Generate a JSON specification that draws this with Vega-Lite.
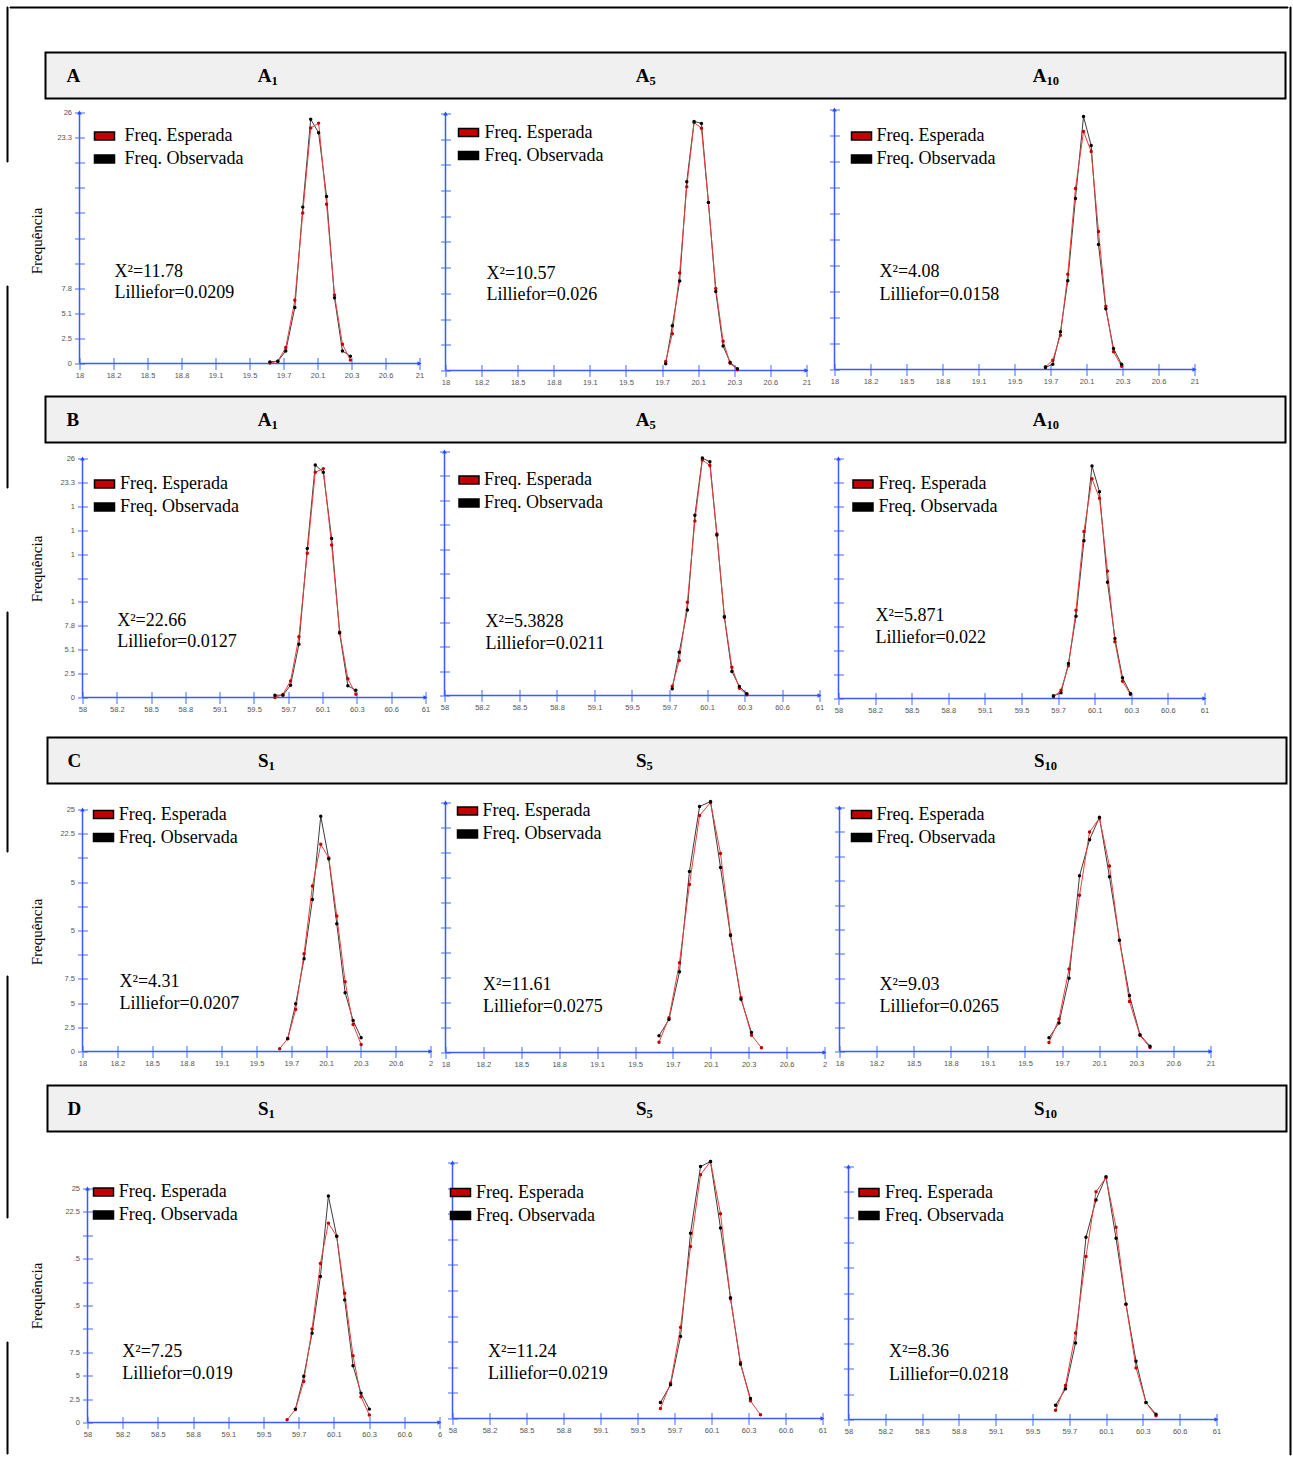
{
  "$schema": "https://vega.github.io/schema/vega-lite/v6.json",
  "padding": {"left": 5.5, "top": 5.5, "right": 2, "bottom": 2},
  "background": "white",
  "datasets": {
    "freq": [
      {"p": "A1", "x": 19.68, "e": 0.05, "o": 0.17},
      {"p": "A1", "x": 19.75, "e": 0.24, "o": 0.24},
      {"p": "A1", "x": 19.82, "e": 1.65, "o": 1.3},
      {"p": "A1", "x": 19.9, "e": 6.55, "o": 5.8},
      {"p": "A1", "x": 19.97, "e": 15.6, "o": 16.2},
      {"p": "A1", "x": 20.04, "e": 24.4, "o": 25.3},
      {"p": "A1", "x": 20.11, "e": 24.9, "o": 23.9},
      {"p": "A1", "x": 20.18, "e": 16.5, "o": 17.3},
      {"p": "A1", "x": 20.25, "e": 7.1, "o": 6.8},
      {"p": "A1", "x": 20.32, "e": 2.0, "o": 1.3},
      {"p": "A1", "x": 20.39, "e": 0.35, "o": 0.76},
      {"p": "A5", "x": 19.83, "e": 0.91, "o": 0.68},
      {"p": "A5", "x": 19.885, "e": 3.72, "o": 4.53},
      {"p": "A5", "x": 19.946, "e": 9.86, "o": 9.05},
      {"p": "A5", "x": 20.005, "e": 18.6, "o": 19.1},
      {"p": "A5", "x": 20.066, "e": 25.1, "o": 25.2},
      {"p": "A5", "x": 20.127, "e": 24.5, "o": 25.0},
      {"p": "A5", "x": 20.185, "e": 17.0, "o": 17.0},
      {"p": "A5", "x": 20.246, "e": 8.3, "o": 8.0},
      {"p": "A5", "x": 20.307, "e": 2.97, "o": 2.47},
      {"p": "A5", "x": 20.365, "e": 0.74, "o": 0.84},
      {"p": "A5", "x": 20.426, "e": 0.07, "o": 0.17},
      {"p": "A10", "x": 19.758, "e": 0.27, "o": 0.2},
      {"p": "A10", "x": 19.819, "e": 0.93, "o": 0.53},
      {"p": "A10", "x": 19.883, "e": 3.43, "o": 3.77},
      {"p": "A10", "x": 19.944, "e": 9.53, "o": 8.87},
      {"p": "A10", "x": 20.008, "e": 18.1, "o": 17.1},
      {"p": "A10", "x": 20.075, "e": 23.8, "o": 25.3},
      {"p": "A10", "x": 20.139, "e": 21.8, "o": 22.4},
      {"p": "A10", "x": 20.2, "e": 13.8, "o": 12.5},
      {"p": "A10", "x": 20.261, "e": 6.33, "o": 6.07},
      {"p": "A10", "x": 20.325, "e": 1.77, "o": 2.1},
      {"p": "A10", "x": 20.392, "e": 0.33, "o": 0.53},
      {"p": "B1", "x": 59.683, "e": 0.0, "o": 0.25},
      {"p": "B1", "x": 59.753, "e": 0.33, "o": 0.25},
      {"p": "B1", "x": 59.82, "e": 1.81, "o": 1.34},
      {"p": "B1", "x": 59.893, "e": 6.6, "o": 5.8},
      {"p": "B1", "x": 59.966, "e": 15.7, "o": 16.2},
      {"p": "B1", "x": 60.036, "e": 24.5, "o": 25.3},
      {"p": "B1", "x": 60.106, "e": 24.9, "o": 24.5},
      {"p": "B1", "x": 60.179, "e": 16.6, "o": 17.3},
      {"p": "B1", "x": 60.249, "e": 7.14, "o": 7.03},
      {"p": "B1", "x": 60.321, "e": 2.03, "o": 1.27},
      {"p": "B1", "x": 60.391, "e": 0.36, "o": 0.8},
      {"p": "B5", "x": 59.822, "e": 0.99, "o": 0.71},
      {"p": "B5", "x": 59.878, "e": 3.72, "o": 4.61},
      {"p": "B5", "x": 59.943, "e": 9.93, "o": 9.12},
      {"p": "B5", "x": 60.003, "e": 18.6, "o": 19.2},
      {"p": "B5", "x": 60.063, "e": 25.1, "o": 25.3},
      {"p": "B5", "x": 60.123, "e": 24.5, "o": 24.9},
      {"p": "B5", "x": 60.179, "e": 17.2, "o": 17.1},
      {"p": "B5", "x": 60.239, "e": 8.44, "o": 8.33},
      {"p": "B5", "x": 60.299, "e": 3.01, "o": 2.55},
      {"p": "B5", "x": 60.359, "e": 0.78, "o": 0.96},
      {"p": "B5", "x": 60.419, "e": 0.07, "o": 0.18},
      {"p": "B10", "x": 59.762, "e": 0.18, "o": 0.29},
      {"p": "B10", "x": 59.824, "e": 0.9, "o": 0.61},
      {"p": "B10", "x": 59.885, "e": 3.54, "o": 3.79},
      {"p": "B10", "x": 59.947, "e": 9.57, "o": 8.92},
      {"p": "B10", "x": 60.012, "e": 18.1, "o": 17.1},
      {"p": "B10", "x": 60.078, "e": 23.8, "o": 25.2},
      {"p": "B10", "x": 60.139, "e": 21.7, "o": 22.4},
      {"p": "B10", "x": 60.205, "e": 13.8, "o": 12.6},
      {"p": "B10", "x": 60.266, "e": 6.14, "o": 6.5},
      {"p": "B10", "x": 60.328, "e": 1.88, "o": 2.24},
      {"p": "B10", "x": 60.393, "e": 0.43, "o": 0.54},
      {"p": "C1", "x": 19.7, "e": 0.28, "o": null},
      {"p": "C1", "x": 19.769, "e": 1.34, "o": 1.31},
      {"p": "C1", "x": 19.838, "e": 4.34, "o": 4.93},
      {"p": "C1", "x": 19.91, "e": 10.1, "o": 9.59},
      {"p": "C1", "x": 19.982, "e": 17.1, "o": 15.7},
      {"p": "C1", "x": 20.054, "e": 21.4, "o": 24.3},
      {"p": "C1", "x": 20.123, "e": 20.0, "o": 19.9},
      {"p": "C1", "x": 20.192, "e": 14.0, "o": 13.2},
      {"p": "C1", "x": 20.264, "e": 7.2, "o": 6.07},
      {"p": "C1", "x": 20.333, "e": 2.79, "o": 3.2},
      {"p": "C1", "x": 20.402, "e": 0.72, "o": 1.41},
      {"p": "C5", "x": 19.69, "e": 1.03, "o": 1.67},
      {"p": "C5", "x": 19.769, "e": 3.47, "o": 3.3},
      {"p": "C5", "x": 19.852, "e": 8.97, "o": 8.07},
      {"p": "C5", "x": 19.931, "e": 16.8, "o": 18.1},
      {"p": "C5", "x": 20.011, "e": 23.7, "o": 24.6},
      {"p": "C5", "x": 20.098, "e": 25.0, "o": 25.1},
      {"p": "C5", "x": 20.177, "e": 19.9, "o": 18.5},
      {"p": "C5", "x": 20.256, "e": 11.8, "o": 11.7},
      {"p": "C5", "x": 20.339, "e": 5.5, "o": 5.33},
      {"p": "C5", "x": 20.422, "e": 1.73, "o": 2.0},
      {"p": "C5", "x": 20.501, "e": 0.47, "o": null},
      {"p": "C10", "x": 19.694, "e": 0.92, "o": 1.4},
      {"p": "C10", "x": 19.775, "e": 3.34, "o": 2.93},
      {"p": "C10", "x": 19.856, "e": 8.46, "o": 7.5},
      {"p": "C10", "x": 19.941, "e": 16.0, "o": 18.0},
      {"p": "C10", "x": 20.022, "e": 22.5, "o": 21.7},
      {"p": "C10", "x": 20.102, "e": 23.9, "o": 24.0},
      {"p": "C10", "x": 20.183, "e": 19.0, "o": 17.9},
      {"p": "C10", "x": 20.264, "e": 11.4, "o": 11.4},
      {"p": "C10", "x": 20.345, "e": 5.12, "o": 5.73},
      {"p": "C10", "x": 20.43, "e": 1.64, "o": 1.71},
      {"p": "C10", "x": 20.511, "e": 0.41, "o": 0.55},
      {"p": "D1", "x": 59.701, "e": 0.29, "o": null},
      {"p": "D1", "x": 59.772, "e": 1.39, "o": 1.43},
      {"p": "D1", "x": 59.843, "e": 4.39, "o": 4.93},
      {"p": "D1", "x": 59.914, "e": 10.0, "o": 9.54},
      {"p": "D1", "x": 59.985, "e": 17.0, "o": 15.6},
      {"p": "D1", "x": 60.053, "e": 21.3, "o": 24.2},
      {"p": "D1", "x": 60.124, "e": 19.9, "o": 19.9},
      {"p": "D1", "x": 60.192, "e": 13.8, "o": 13.1},
      {"p": "D1", "x": 60.263, "e": 7.14, "o": 6.07},
      {"p": "D1", "x": 60.331, "e": 2.75, "o": 3.14},
      {"p": "D1", "x": 60.402, "e": 0.79, "o": 1.43},
      {"p": "D5", "x": 59.686, "e": 0.98, "o": 1.56},
      {"p": "D5", "x": 59.768, "e": 3.46, "o": 3.29},
      {"p": "D5", "x": 59.849, "e": 8.9, "o": 8.02},
      {"p": "D5", "x": 59.93, "e": 16.8, "o": 18.1},
      {"p": "D5", "x": 60.011, "e": 23.8, "o": 24.6},
      {"p": "D5", "x": 60.092, "e": 25.1, "o": 25.1},
      {"p": "D5", "x": 60.173, "e": 20.0, "o": 18.6},
      {"p": "D5", "x": 60.254, "e": 11.7, "o": 11.8},
      {"p": "D5", "x": 60.335, "e": 5.48, "o": 5.31},
      {"p": "D5", "x": 60.416, "e": 1.73, "o": 1.96},
      {"p": "D5", "x": 60.497, "e": 0.36, "o": null},
      {"p": "D10", "x": 59.688, "e": 0.92, "o": 1.41},
      {"p": "D10", "x": 59.769, "e": 3.36, "o": 3.03},
      {"p": "D10", "x": 59.851, "e": 8.55, "o": 7.57},
      {"p": "D10", "x": 59.936, "e": 16.1, "o": 18.0},
      {"p": "D10", "x": 60.018, "e": 22.5, "o": 21.7},
      {"p": "D10", "x": 60.099, "e": 23.9, "o": 24.0},
      {"p": "D10", "x": 60.181, "e": 19.0, "o": 17.9},
      {"p": "D10", "x": 60.262, "e": 11.4, "o": 11.4},
      {"p": "D10", "x": 60.344, "e": 5.1, "o": 5.76},
      {"p": "D10", "x": 60.425, "e": 1.68, "o": 1.68},
      {"p": "D10", "x": 60.507, "e": 0.36, "o": 0.53}
    ]
  },
  "config": {
    "view": {"stroke": null},
    "concat": {"spacing": 0},
    "axis": {"grid": false, "domain": false, "tickCount": 20, "tickColor": "#7f9cff", "tickWidth": 1.5, "labelFont": "Liberation Sans", "labelFontSize": 7.5, "labelColor": "#555", "labelFlush": false, "labelOverlap": false, "titleFont": "Liberation Serif", "titleFontSize": 15, "titleFontWeight": "normal", "titleColor": "#000"},
    "axisX": {"tickSize": 12, "offset": -6, "labelPadding": 2},
    "axisY": {"tickSize": 10, "offset": -5, "labelPadding": 3},
    "legend": {"orient": "none", "padding": 0, "symbolType": "M-1,-0.4H1V0.4H-1Z", "symbolSize": 400, "symbolStrokeWidth": 1.5, "symbolStrokeColor": "#000", "labelFont": "Liberation Serif", "labelFontSize": 18, "labelColor": "#000", "rowPadding": 3, "labelLimit": 0},
    "text": {"font": "Liberation Serif", "fontSize": 18, "color": "#000"}
  },
  "spacing": 0,
  "hconcat": [
    {
      "spacing": 124,
      "bounds": "flush",
      "vconcat": [
        {"width": 1, "height": 155, "view": {"fill": "#000", "stroke": "#000", "strokeWidth": 1}, "data": {"values": []}, "mark": "point"},
        {"width": 1, "height": 202, "view": {"fill": "#000", "stroke": "#000", "strokeWidth": 1}, "data": {"values": []}, "mark": "point"},
        {"width": 1, "height": 240, "view": {"fill": "#000", "stroke": "#000", "strokeWidth": 1}, "data": {"values": []}, "mark": "point"},
        {"width": 1, "height": 242, "view": {"fill": "#000", "stroke": "#000", "strokeWidth": 1}, "data": {"values": []}, "mark": "point"},
        {"width": 1, "height": 112, "view": {"fill": "#000", "stroke": "#000", "strokeWidth": 1}, "data": {"values": []}, "mark": "point"}
      ]
    },
    {
      "spacing": 0,
      "vconcat": [
        {"width": 1278, "height": 1, "view": {"fill": "#000", "stroke": "#000", "strokeWidth": 1}, "data": {"values": []}, "mark": "point"},
        {"width": 1, "height": 42.5, "data": {"values": []}, "mark": "point"},
        {
          "spacing": 0, "bounds": "flush",
          "hconcat": [
            {"width": 35.5, "height": 46, "data": {"values": []}, "mark": "point"},
            {
              "width": 1240, "height": 46,
              "view": {"fill": "#f0f0f0", "stroke": "#000", "strokeWidth": 2},
              "data": {"values": [{}]},
              "layer": [
                {"mark": {"type": "text", "align": "left", "fontWeight": "bold", "fontSize": 19}, "encoding": {"x": {"datum": 21, "type": "quantitative", "scale": {"domain": [0, 1240], "nice": false, "zero": false}, "axis": null}, "text": {"value": "A"}}},
                {"mark": {"type": "text", "align": "right", "fontWeight": "bold", "fontSize": 19}, "encoding": {"x": {"datum": 226, "type": "quantitative"}, "text": {"value": "A"}}},
                {"mark": {"type": "text", "align": "left", "fontWeight": "bold", "fontSize": 12.5, "dy": 5.5}, "encoding": {"x": {"datum": 226, "type": "quantitative"}, "text": {"value": "1"}}},
                {"mark": {"type": "text", "align": "right", "fontWeight": "bold", "fontSize": 19}, "encoding": {"x": {"datum": 604, "type": "quantitative"}, "text": {"value": "A"}}},
                {"mark": {"type": "text", "align": "left", "fontWeight": "bold", "fontSize": 12.5, "dy": 5.5}, "encoding": {"x": {"datum": 604, "type": "quantitative"}, "text": {"value": "5"}}},
                {"mark": {"type": "text", "align": "right", "fontWeight": "bold", "fontSize": 19}, "encoding": {"x": {"datum": 1001, "type": "quantitative"}, "text": {"value": "A"}}},
                {"mark": {"type": "text", "align": "left", "fontWeight": "bold", "fontSize": 12.5, "dy": 5.5}, "encoding": {"x": {"datum": 1001, "type": "quantitative"}, "text": {"value": "10"}}}
              ]
            }
          ]
        },
        {
          "spacing": 0, "bounds": "flush",
          "resolve": {"scale": {"color": "independent"}, "legend": {"color": "independent"}},
          "hconcat": [
            {"width": 69.5, "height": 296, "data": {"values": []}, "mark": "point"},
            {
              "width": 366, "height": 264,
              "layer": [
                {"data": {"values": [{}]}, "mark": {"type": "rule", "color": "#3b5bff", "strokeWidth": 1.5}, "encoding": {
                  "x": {"datum": 18, "type": "quantitative", "scale": {"domain": [18, 21.2294], "nice": false, "zero": false}, "axis": {"values": [18, 18.3, 18.6, 18.9, 19.2, 19.5, 19.8, 20.1, 20.4, 20.7, 21], "tickCount": 20, "labelOverlap": false, "labelExpr": "['18','18.2','18.5','18.8','19.1','19.5','19.7','20.1','20.3','20.6','21'][round((datum.value-18)/0.3)]", "title": null}},
                  "x2": {"datum": 21},
                  "y": {"datum": 0, "type": "quantitative", "scale": {"domain": [0, 27.347], "nice": false}, "axis": {"values": [0, 2.6, 5.2, 7.8, 10.4, 13, 15.6, 18.2, 20.8, 23.4, 26], "tickCount": 20, "labelOverlap": false, "labelExpr": "['0','2.5','5.1','7.8','','','','','','23.3','26'][round(datum.value/2.6)]", "title": "Frequência", "minExtent": 30, "maxExtent": 30, "titlePadding": 10, "titleY": 141}}}},
                {"data": {"values": [{}]}, "mark": {"type": "rule", "color": "#3b5bff", "strokeWidth": 1.5}, "encoding": {"x": {"datum": 18, "type": "quantitative"}, "y": {"datum": 0, "type": "quantitative"}, "y2": {"datum": 26}}},
                {"data": {"values": [{}]}, "mark": {"type": "point", "shape": "triangle-right", "filled": true, "size": 22, "color": "#2b4bff", "opacity": 1}, "encoding": {"x": {"datum": 21, "type": "quantitative"}, "y": {"datum": 0, "type": "quantitative"}}},
                {"data": {"values": [{}]}, "mark": {"type": "point", "shape": "triangle-up", "filled": true, "size": 22, "color": "#2b4bff", "opacity": 1}, "encoding": {"x": {"datum": 18, "type": "quantitative"}, "y": {"datum": 26, "type": "quantitative"}}},
                {"data": {"name": "freq"}, "transform": [{"filter": "datum.p === 'A1'"}, {"fold": ["e", "o"], "as": ["s", "f"]}, {"filter": "isValid(datum.f)"}], "layer": [
                  {"transform": [{"filter": "datum.s === 'o'"}], "mark": {"type": "line", "color": "#3c3c3c", "strokeWidth": 1}, "encoding": {"x": {"field": "x", "type": "quantitative"}, "y": {"field": "f", "type": "quantitative"}}},
                  {"transform": [{"filter": "datum.s === 'e'"}], "mark": {"type": "line", "color": "#f03c3c", "strokeWidth": 1}, "encoding": {"x": {"field": "x", "type": "quantitative"}, "y": {"field": "f", "type": "quantitative"}}},
                  {"mark": {"type": "point", "filled": true, "size": 12, "opacity": 1}, "encoding": {"x": {"field": "x", "type": "quantitative"}, "y": {"field": "f", "type": "quantitative"}, "color": {"field": "s", "type": "nominal", "scale": {"domain": ["e", "o"], "range": ["#c40000", "#000000"]}, "legend": {"title": null, "legendX": 14, "legendY": 25.5, "labelOffset": 9, "labelExpr": "datum.value === 'e' ? 'Freq. Esperada' : 'Freq. Observada'", "encode": {"symbols": {"update": {"stroke": {"value": "#000"}, "strokeWidth": {"value": 1.5}}}}}}}}
                ]},
                {"data": {"values": [{}]}, "mark": {"type": "text", "align": "left", "baseline": "alphabetic"}, "encoding": {"x": {"datum": 18.309, "type": "quantitative"}, "y": {"datum": 9.01, "type": "quantitative"}, "text": {"value": "X²=11.78"}}},
                {"data": {"values": [{}]}, "mark": {"type": "text", "align": "left", "baseline": "alphabetic"}, "encoding": {"x": {"datum": 18.309, "type": "quantitative"}, "y": {"datum": 6.81, "type": "quantitative"}, "text": {"value": "Lilliefor=0.0209"}}}
              ]
            },
            {
              "width": 389, "height": 271,
              "layer": [
                {"data": {"values": [{}]}, "mark": {"type": "rule", "color": "#3b5bff", "strokeWidth": 1.5}, "encoding": {
                  "x": {"datum": 18, "type": "quantitative", "scale": {"domain": [18, 21.2327], "nice": false, "zero": false}, "axis": {"values": [18, 18.3, 18.6, 18.9, 19.2, 19.5, 19.8, 20.1, 20.4, 20.7, 21], "tickCount": 20, "labelOverlap": false, "labelExpr": "['18','18.2','18.5','18.8','19.1','19.5','19.7','20.1','20.3','20.6','21'][round((datum.value-18)/0.3)]", "title": null}},
                  "x2": {"datum": 21},
                  "y": {"datum": 0, "type": "quantitative", "scale": {"domain": [0, 27.416], "nice": false}, "axis": {"values": [0, 2.6, 5.2, 7.8, 10.4, 13, 15.6, 18.2, 20.8, 23.4, 26], "tickCount": 20, "labels": false, "title": null}}}},
                {"data": {"values": [{}]}, "mark": {"type": "rule", "color": "#3b5bff", "strokeWidth": 1.5}, "encoding": {"x": {"datum": 18, "type": "quantitative"}, "y": {"datum": 0, "type": "quantitative"}, "y2": {"datum": 26}}},
                {"data": {"values": [{}]}, "mark": {"type": "point", "shape": "triangle-right", "filled": true, "size": 22, "color": "#2b4bff", "opacity": 1}, "encoding": {"x": {"datum": 21, "type": "quantitative"}, "y": {"datum": 0, "type": "quantitative"}}},
                {"data": {"values": [{}]}, "mark": {"type": "point", "shape": "triangle-up", "filled": true, "size": 22, "color": "#2b4bff", "opacity": 1}, "encoding": {"x": {"datum": 18, "type": "quantitative"}, "y": {"datum": 26, "type": "quantitative"}}},
                {"data": {"name": "freq"}, "transform": [{"filter": "datum.p === 'A5'"}, {"fold": ["e", "o"], "as": ["s", "f"]}, {"filter": "isValid(datum.f)"}], "layer": [
                  {"transform": [{"filter": "datum.s === 'o'"}], "mark": {"type": "line", "color": "#3c3c3c", "strokeWidth": 1}, "encoding": {"x": {"field": "x", "type": "quantitative"}, "y": {"field": "f", "type": "quantitative"}}},
                  {"transform": [{"filter": "datum.s === 'e'"}], "mark": {"type": "line", "color": "#f03c3c", "strokeWidth": 1}, "encoding": {"x": {"field": "x", "type": "quantitative"}, "y": {"field": "f", "type": "quantitative"}}},
                  {"mark": {"type": "point", "filled": true, "size": 12, "opacity": 1}, "encoding": {"x": {"field": "x", "type": "quantitative"}, "y": {"field": "f", "type": "quantitative"}, "color": {"field": "s", "type": "nominal", "scale": {"domain": ["e", "o"], "range": ["#c40000", "#000000"]}, "legend": {"title": null, "legendX": 12, "legendY": 22, "labelOffset": 5, "labelExpr": "datum.value === 'e' ? 'Freq. Esperada' : 'Freq. Observada'", "encode": {"symbols": {"update": {"stroke": {"value": "#000"}, "strokeWidth": {"value": 1.5}}}}}}}}
                ]},
                {"data": {"values": [{}]}, "mark": {"type": "text", "align": "left", "baseline": "alphabetic"}, "encoding": {"x": {"datum": 18.341, "type": "quantitative"}, "y": {"datum": 9.28, "type": "quantitative"}, "text": {"value": "X²=10.57"}}},
                {"data": {"values": [{}]}, "mark": {"type": "text", "align": "left", "baseline": "alphabetic"}, "encoding": {"x": {"datum": 18.341, "type": "quantitative"}, "y": {"datum": 7.18, "type": "quantitative"}, "text": {"value": "Lilliefor=0.026"}}}
              ]
            },
            {
              "width": 370, "height": 270,
              "layer": [
                {"data": {"values": [{}]}, "mark": {"type": "rule", "color": "#3b5bff", "strokeWidth": 1.5}, "encoding": {
                  "x": {"datum": 18, "type": "quantitative", "scale": {"domain": [18, 21.0833], "nice": false, "zero": false}, "axis": {"values": [18, 18.3, 18.6, 18.9, 19.2, 19.5, 19.8, 20.1, 20.4, 20.7, 21], "tickCount": 20, "labelOverlap": false, "labelExpr": "['18','18.2','18.5','18.8','19.1','19.5','19.7','20.1','20.3','20.6','21'][round((datum.value-18)/0.3)]", "title": null}},
                  "x2": {"datum": 21},
                  "y": {"datum": 0, "type": "quantitative", "scale": {"domain": [0, 27.0], "nice": false}, "axis": {"values": [0, 2.6, 5.2, 7.8, 10.4, 13, 15.6, 18.2, 20.8, 23.4, 26], "tickCount": 20, "labels": false, "title": null}}}},
                {"data": {"values": [{}]}, "mark": {"type": "rule", "color": "#3b5bff", "strokeWidth": 1.5}, "encoding": {"x": {"datum": 18, "type": "quantitative"}, "y": {"datum": 0, "type": "quantitative"}, "y2": {"datum": 26}}},
                {"data": {"values": [{}]}, "mark": {"type": "point", "shape": "triangle-right", "filled": true, "size": 22, "color": "#2b4bff", "opacity": 1}, "encoding": {"x": {"datum": 21, "type": "quantitative"}, "y": {"datum": 0, "type": "quantitative"}}},
                {"data": {"values": [{}]}, "mark": {"type": "point", "shape": "triangle-up", "filled": true, "size": 22, "color": "#2b4bff", "opacity": 1}, "encoding": {"x": {"datum": 18, "type": "quantitative"}, "y": {"datum": 26, "type": "quantitative"}}},
                {"data": {"name": "freq"}, "transform": [{"filter": "datum.p === 'A10'"}, {"fold": ["e", "o"], "as": ["s", "f"]}, {"filter": "isValid(datum.f)"}], "layer": [
                  {"transform": [{"filter": "datum.s === 'o'"}], "mark": {"type": "line", "color": "#3c3c3c", "strokeWidth": 1}, "encoding": {"x": {"field": "x", "type": "quantitative"}, "y": {"field": "f", "type": "quantitative"}}},
                  {"transform": [{"filter": "datum.s === 'e'"}], "mark": {"type": "line", "color": "#f03c3c", "strokeWidth": 1}, "encoding": {"x": {"field": "x", "type": "quantitative"}, "y": {"field": "f", "type": "quantitative"}}},
                  {"mark": {"type": "point", "filled": true, "size": 12, "opacity": 1}, "encoding": {"x": {"field": "x", "type": "quantitative"}, "y": {"field": "f", "type": "quantitative"}, "color": {"field": "s", "type": "nominal", "scale": {"domain": ["e", "o"], "range": ["#c40000", "#000000"]}, "legend": {"title": null, "legendX": 16, "legendY": 25.5, "labelOffset": 4, "labelExpr": "datum.value === 'e' ? 'Freq. Esperada' : 'Freq. Observada'", "encode": {"symbols": {"update": {"stroke": {"value": "#000"}, "strokeWidth": {"value": 1.5}}}}}}}}
                ]},
                {"data": {"values": [{}]}, "mark": {"type": "text", "align": "left", "baseline": "alphabetic"}, "encoding": {"x": {"datum": 18.375, "type": "quantitative"}, "y": {"datum": 9.23, "type": "quantitative"}, "text": {"value": "X²=4.08"}}},
                {"data": {"values": [{}]}, "mark": {"type": "text", "align": "left", "baseline": "alphabetic"}, "encoding": {"x": {"datum": 18.375, "type": "quantitative"}, "y": {"datum": 7.0, "type": "quantitative"}, "text": {"value": "Lilliefor=0.0158"}}}
              ]
            }
          ]
        },
        {
          "spacing": 0, "bounds": "flush",
          "hconcat": [
            {"width": 35.5, "height": 46, "data": {"values": []}, "mark": "point"},
            {
              "width": 1240, "height": 46,
              "view": {"fill": "#f0f0f0", "stroke": "#000", "strokeWidth": 2},
              "data": {"values": [{}]},
              "layer": [
                {"mark": {"type": "text", "align": "left", "fontWeight": "bold", "fontSize": 19}, "encoding": {"x": {"datum": 21, "type": "quantitative", "scale": {"domain": [0, 1240], "nice": false, "zero": false}, "axis": null}, "text": {"value": "B"}}},
                {"mark": {"type": "text", "align": "right", "fontWeight": "bold", "fontSize": 19}, "encoding": {"x": {"datum": 226, "type": "quantitative"}, "text": {"value": "A"}}},
                {"mark": {"type": "text", "align": "left", "fontWeight": "bold", "fontSize": 12.5, "dy": 5.5}, "encoding": {"x": {"datum": 226, "type": "quantitative"}, "text": {"value": "1"}}},
                {"mark": {"type": "text", "align": "right", "fontWeight": "bold", "fontSize": 19}, "encoding": {"x": {"datum": 604, "type": "quantitative"}, "text": {"value": "A"}}},
                {"mark": {"type": "text", "align": "left", "fontWeight": "bold", "fontSize": 12.5, "dy": 5.5}, "encoding": {"x": {"datum": 604, "type": "quantitative"}, "text": {"value": "5"}}},
                {"mark": {"type": "text", "align": "right", "fontWeight": "bold", "fontSize": 19}, "encoding": {"x": {"datum": 1001, "type": "quantitative"}, "text": {"value": "A"}}},
                {"mark": {"type": "text", "align": "left", "fontWeight": "bold", "fontSize": 12.5, "dy": 5.5}, "encoding": {"x": {"datum": 1001, "type": "quantitative"}, "text": {"value": "10"}}}
              ]
            }
          ]
        },
        {
          "spacing": 0, "bounds": "flush",
          "resolve": {"scale": {"color": "independent"}, "legend": {"color": "independent"}},
          "hconcat": [
            {"width": 72.5, "height": 293, "data": {"values": []}, "mark": "point"},
            {
              "width": 362, "height": 254,
              "layer": [
                {"data": {"values": [{}]}, "mark": {"type": "rule", "color": "#3b5bff", "strokeWidth": 1.5}, "encoding": {
                  "x": {"datum": 58, "type": "quantitative", "scale": {"domain": [58, 61.1662], "nice": false, "zero": false}, "axis": {"values": [58, 58.3, 58.6, 58.9, 59.2, 59.5, 59.8, 60.1, 60.4, 60.7, 61], "tickCount": 20, "labelOverlap": false, "labelExpr": "['58','58.2','58.5','58.8','59.1','59.5','59.7','60.1','60.3','60.6','61'][round((datum.value-58)/0.3)]", "title": null}},
                  "x2": {"datum": 61},
                  "y": {"datum": 0, "type": "quantitative", "scale": {"domain": [0, 27.632], "nice": false}, "axis": {"values": [0, 2.6, 5.2, 7.8, 10.4, 13, 15.6, 18.2, 20.8, 23.4, 26], "tickCount": 20, "labelOverlap": false, "labelExpr": "['0','2.5','5.1','7.8','1','','1','1','1','23.3','26'][round(datum.value/2.6)]", "title": "Frequência", "minExtent": 30, "maxExtent": 30, "titlePadding": 13, "titleY": 125}}}},
                {"data": {"values": [{}]}, "mark": {"type": "rule", "color": "#3b5bff", "strokeWidth": 1.5}, "encoding": {"x": {"datum": 58, "type": "quantitative"}, "y": {"datum": 0, "type": "quantitative"}, "y2": {"datum": 26}}},
                {"data": {"values": [{}]}, "mark": {"type": "point", "shape": "triangle-right", "filled": true, "size": 22, "color": "#2b4bff", "opacity": 1}, "encoding": {"x": {"datum": 61, "type": "quantitative"}, "y": {"datum": 0, "type": "quantitative"}}},
                {"data": {"values": [{}]}, "mark": {"type": "point", "shape": "triangle-up", "filled": true, "size": 22, "color": "#2b4bff", "opacity": 1}, "encoding": {"x": {"datum": 58, "type": "quantitative"}, "y": {"datum": 26, "type": "quantitative"}}},
                {"data": {"name": "freq"}, "transform": [{"filter": "datum.p === 'B1'"}, {"fold": ["e", "o"], "as": ["s", "f"]}, {"filter": "isValid(datum.f)"}], "layer": [
                  {"transform": [{"filter": "datum.s === 'o'"}], "mark": {"type": "line", "color": "#3c3c3c", "strokeWidth": 1}, "encoding": {"x": {"field": "x", "type": "quantitative"}, "y": {"field": "f", "type": "quantitative"}}},
                  {"transform": [{"filter": "datum.s === 'e'"}], "mark": {"type": "line", "color": "#f03c3c", "strokeWidth": 1}, "encoding": {"x": {"field": "x", "type": "quantitative"}, "y": {"field": "f", "type": "quantitative"}}},
                  {"mark": {"type": "point", "filled": true, "size": 12, "opacity": 1}, "encoding": {"x": {"field": "x", "type": "quantitative"}, "y": {"field": "f", "type": "quantitative"}, "color": {"field": "s", "type": "nominal", "scale": {"domain": ["e", "o"], "range": ["#c40000", "#000000"]}, "legend": {"title": null, "legendX": 11, "legendY": 29.5, "labelOffset": 4.5, "labelExpr": "datum.value === 'e' ? 'Freq. Esperada' : 'Freq. Observada'", "encode": {"symbols": {"update": {"stroke": {"value": "#000"}, "strokeWidth": {"value": 1.5}}}}}}}}
                ]},
                {"data": {"values": [{}]}, "mark": {"type": "text", "align": "left", "baseline": "alphabetic"}, "encoding": {"x": {"datum": 58.303, "type": "quantitative"}, "y": {"datum": 7.83, "type": "quantitative"}, "text": {"value": "X²=22.66"}}},
                {"data": {"values": [{}]}, "mark": {"type": "text", "align": "left", "baseline": "alphabetic"}, "encoding": {"x": {"datum": 58.303, "type": "quantitative"}, "y": {"datum": 5.47, "type": "quantitative"}, "text": {"value": "Lilliefor=0.0127"}}}
              ]
            },
            {
              "width": 394, "height": 252,
              "layer": [
                {"data": {"values": [{}]}, "mark": {"type": "rule", "color": "#3b5bff", "strokeWidth": 1.5}, "encoding": {
                  "x": {"datum": 58, "type": "quantitative", "scale": {"domain": [58, 61.152], "nice": false, "zero": false}, "axis": {"values": [58, 58.3, 58.6, 58.9, 59.2, 59.5, 59.8, 60.1, 60.4, 60.7, 61], "tickCount": 20, "labelOverlap": false, "labelExpr": "['58','58.2','58.5','58.8','59.1','59.5','59.7','60.1','60.3','60.6','61'][round((datum.value-58)/0.3)]", "title": null}},
                  "x2": {"datum": 61},
                  "y": {"datum": 0, "type": "quantitative", "scale": {"domain": [0, 26.852], "nice": false}, "axis": {"values": [0, 2.6, 5.2, 7.8, 10.4, 13, 15.6, 18.2, 20.8, 23.4, 26], "tickCount": 20, "labels": false, "title": null}}}},
                {"data": {"values": [{}]}, "mark": {"type": "rule", "color": "#3b5bff", "strokeWidth": 1.5}, "encoding": {"x": {"datum": 58, "type": "quantitative"}, "y": {"datum": 0, "type": "quantitative"}, "y2": {"datum": 26}}},
                {"data": {"values": [{}]}, "mark": {"type": "point", "shape": "triangle-right", "filled": true, "size": 22, "color": "#2b4bff", "opacity": 1}, "encoding": {"x": {"datum": 61, "type": "quantitative"}, "y": {"datum": 0, "type": "quantitative"}}},
                {"data": {"values": [{}]}, "mark": {"type": "point", "shape": "triangle-up", "filled": true, "size": 22, "color": "#2b4bff", "opacity": 1}, "encoding": {"x": {"datum": 58, "type": "quantitative"}, "y": {"datum": 26, "type": "quantitative"}}},
                {"data": {"name": "freq"}, "transform": [{"filter": "datum.p === 'B5'"}, {"fold": ["e", "o"], "as": ["s", "f"]}, {"filter": "isValid(datum.f)"}], "layer": [
                  {"transform": [{"filter": "datum.s === 'o'"}], "mark": {"type": "line", "color": "#3c3c3c", "strokeWidth": 1}, "encoding": {"x": {"field": "x", "type": "quantitative"}, "y": {"field": "f", "type": "quantitative"}}},
                  {"transform": [{"filter": "datum.s === 'e'"}], "mark": {"type": "line", "color": "#f03c3c", "strokeWidth": 1}, "encoding": {"x": {"field": "x", "type": "quantitative"}, "y": {"field": "f", "type": "quantitative"}}},
                  {"mark": {"type": "point", "filled": true, "size": 12, "opacity": 1}, "encoding": {"x": {"field": "x", "type": "quantitative"}, "y": {"field": "f", "type": "quantitative"}, "color": {"field": "s", "type": "nominal", "scale": {"domain": ["e", "o"], "range": ["#c40000", "#000000"]}, "legend": {"title": null, "legendX": 13.5, "legendY": 25.5, "labelOffset": 4, "labelExpr": "datum.value === 'e' ? 'Freq. Esperada' : 'Freq. Observada'", "encode": {"symbols": {"update": {"stroke": {"value": "#000"}, "strokeWidth": {"value": 1.5}}}}}}}}
                ]},
                {"data": {"values": [{}]}, "mark": {"type": "text", "align": "left", "baseline": "alphabetic"}, "encoding": {"x": {"datum": 58.328, "type": "quantitative"}, "y": {"datum": 7.28, "type": "quantitative"}, "text": {"value": "X²=5.3828"}}},
                {"data": {"values": [{}]}, "mark": {"type": "text", "align": "left", "baseline": "alphabetic"}, "encoding": {"x": {"datum": 58.328, "type": "quantitative"}, "y": {"datum": 4.98, "type": "quantitative"}, "text": {"value": "Lilliefor=0.0211"}}}
              ]
            },
            {
              "width": 376, "height": 255,
              "layer": [
                {"data": {"values": [{}]}, "mark": {"type": "rule", "color": "#3b5bff", "strokeWidth": 1.5}, "encoding": {
                  "x": {"datum": 58, "type": "quantitative", "scale": {"domain": [58, 61.082], "nice": false, "zero": false}, "axis": {"values": [58, 58.3, 58.6, 58.9, 59.2, 59.5, 59.8, 60.1, 60.4, 60.7, 61], "tickCount": 20, "labelOverlap": false, "labelExpr": "['58','58.2','58.5','58.8','59.1','59.5','59.7','60.1','60.3','60.6','61'][round((datum.value-58)/0.3)]", "title": null}},
                  "x2": {"datum": 61},
                  "y": {"datum": 0, "type": "quantitative", "scale": {"domain": [0, 27.625], "nice": false}, "axis": {"values": [0, 2.6, 5.2, 7.8, 10.4, 13, 15.6, 18.2, 20.8, 23.4, 26], "tickCount": 20, "labels": false, "title": null}}}},
                {"data": {"values": [{}]}, "mark": {"type": "rule", "color": "#3b5bff", "strokeWidth": 1.5}, "encoding": {"x": {"datum": 58, "type": "quantitative"}, "y": {"datum": 0, "type": "quantitative"}, "y2": {"datum": 26}}},
                {"data": {"values": [{}]}, "mark": {"type": "point", "shape": "triangle-right", "filled": true, "size": 22, "color": "#2b4bff", "opacity": 1}, "encoding": {"x": {"datum": 61, "type": "quantitative"}, "y": {"datum": 0, "type": "quantitative"}}},
                {"data": {"values": [{}]}, "mark": {"type": "point", "shape": "triangle-up", "filled": true, "size": 22, "color": "#2b4bff", "opacity": 1}, "encoding": {"x": {"datum": 58, "type": "quantitative"}, "y": {"datum": 26, "type": "quantitative"}}},
                {"data": {"name": "freq"}, "transform": [{"filter": "datum.p === 'B10'"}, {"fold": ["e", "o"], "as": ["s", "f"]}, {"filter": "isValid(datum.f)"}], "layer": [
                  {"transform": [{"filter": "datum.s === 'o'"}], "mark": {"type": "line", "color": "#3c3c3c", "strokeWidth": 1}, "encoding": {"x": {"field": "x", "type": "quantitative"}, "y": {"field": "f", "type": "quantitative"}}},
                  {"transform": [{"filter": "datum.s === 'e'"}], "mark": {"type": "line", "color": "#f03c3c", "strokeWidth": 1}, "encoding": {"x": {"field": "x", "type": "quantitative"}, "y": {"field": "f", "type": "quantitative"}}},
                  {"mark": {"type": "point", "filled": true, "size": 12, "opacity": 1}, "encoding": {"x": {"field": "x", "type": "quantitative"}, "y": {"field": "f", "type": "quantitative"}, "color": {"field": "s", "type": "nominal", "scale": {"domain": ["e", "o"], "range": ["#c40000", "#000000"]}, "legend": {"title": null, "legendX": 13.5, "legendY": 29.5, "labelOffset": 4.5, "labelExpr": "datum.value === 'e' ? 'Freq. Esperada' : 'Freq. Observada'", "encode": {"symbols": {"update": {"stroke": {"value": "#000"}, "strokeWidth": {"value": 1.5}}}}}}}}
                ]},
                {"data": {"values": [{}]}, "mark": {"type": "text", "align": "left", "baseline": "alphabetic"}, "encoding": {"x": {"datum": 58.303, "type": "quantitative"}, "y": {"datum": 8.37, "type": "quantitative"}, "text": {"value": "X²=5.871"}}},
                {"data": {"values": [{}]}, "mark": {"type": "text", "align": "left", "baseline": "alphabetic"}, "encoding": {"x": {"datum": 58.303, "type": "quantitative"}, "y": {"datum": 5.99, "type": "quantitative"}, "text": {"value": "Lilliefor=0.022"}}}
              ]
            }
          ]
        },
        {
          "spacing": 0, "bounds": "flush",
          "hconcat": [
            {"width": 37.5, "height": 46, "data": {"values": []}, "mark": "point"},
            {
              "width": 1239, "height": 46,
              "view": {"fill": "#f0f0f0", "stroke": "#000", "strokeWidth": 2},
              "data": {"values": [{}]},
              "layer": [
                {"mark": {"type": "text", "align": "left", "fontWeight": "bold", "fontSize": 19}, "encoding": {"x": {"datum": 20, "type": "quantitative", "scale": {"domain": [0, 1239], "nice": false, "zero": false}, "axis": null}, "text": {"value": "C"}}},
                {"mark": {"type": "text", "align": "right", "fontWeight": "bold", "fontSize": 19}, "encoding": {"x": {"datum": 221, "type": "quantitative"}, "text": {"value": "S"}}},
                {"mark": {"type": "text", "align": "left", "fontWeight": "bold", "fontSize": 12.5, "dy": 5.5}, "encoding": {"x": {"datum": 221, "type": "quantitative"}, "text": {"value": "1"}}},
                {"mark": {"type": "text", "align": "right", "fontWeight": "bold", "fontSize": 19}, "encoding": {"x": {"datum": 599, "type": "quantitative"}, "text": {"value": "S"}}},
                {"mark": {"type": "text", "align": "left", "fontWeight": "bold", "fontSize": 12.5, "dy": 5.5}, "encoding": {"x": {"datum": 599, "type": "quantitative"}, "text": {"value": "5"}}},
                {"mark": {"type": "text", "align": "right", "fontWeight": "bold", "fontSize": 19}, "encoding": {"x": {"datum": 997, "type": "quantitative"}, "text": {"value": "S"}}},
                {"mark": {"type": "text", "align": "left", "fontWeight": "bold", "fontSize": 12.5, "dy": 5.5}, "encoding": {"x": {"datum": 997, "type": "quantitative"}, "text": {"value": "10"}}}
              ]
            }
          ]
        },
        {
          "spacing": 0, "bounds": "flush",
          "resolve": {"scale": {"color": "independent"}, "legend": {"color": "independent"}},
          "hconcat": [
            {"width": 72.5, "height": 300, "data": {"values": []}, "mark": "point"},
            {
              "width": 363, "height": 267,
              "layer": [
                {"data": {"values": [{}]}, "mark": {"type": "rule", "color": "#3b5bff", "strokeWidth": 1.5}, "encoding": {
                  "x": {"datum": 18, "type": "quantitative", "scale": {"domain": [18, 21.1293], "nice": false, "zero": false}, "axis": {"values": [18, 18.3, 18.6, 18.9, 19.2, 19.5, 19.8, 20.1, 20.4, 20.7, 21], "tickCount": 20, "labelOverlap": false, "labelExpr": "['18','18.2','18.5','18.8','19.1','19.5','19.7','20.1','20.3','20.6','2'][round((datum.value-18)/0.3)]", "title": null}},
                  "x2": {"datum": 21},
                  "y": {"datum": 0, "type": "quantitative", "scale": {"domain": [0, 27.583], "nice": false}, "axis": {"values": [0, 2.5, 5, 7.5, 10, 12.5, 15, 17.5, 20, 22.5, 25], "tickCount": 20, "labelOverlap": false, "labelExpr": "['0','2.5','5','7.5','','5','','5','','22.5','25'][round(datum.value/2.5)]", "title": "Frequência", "minExtent": 30, "maxExtent": 30, "titlePadding": 13, "titleY": 147}}}},
                {"data": {"values": [{}]}, "mark": {"type": "rule", "color": "#3b5bff", "strokeWidth": 1.5}, "encoding": {"x": {"datum": 18, "type": "quantitative"}, "y": {"datum": 0, "type": "quantitative"}, "y2": {"datum": 25}}},
                {"data": {"values": [{}]}, "mark": {"type": "point", "shape": "triangle-right", "filled": true, "size": 22, "color": "#2b4bff", "opacity": 1}, "encoding": {"x": {"datum": 21, "type": "quantitative"}, "y": {"datum": 0, "type": "quantitative"}}},
                {"data": {"values": [{}]}, "mark": {"type": "point", "shape": "triangle-up", "filled": true, "size": 22, "color": "#2b4bff", "opacity": 1}, "encoding": {"x": {"datum": 18, "type": "quantitative"}, "y": {"datum": 25, "type": "quantitative"}}},
                {"data": {"name": "freq"}, "transform": [{"filter": "datum.p === 'C1'"}, {"fold": ["e", "o"], "as": ["s", "f"]}, {"filter": "isValid(datum.f)"}], "layer": [
                  {"transform": [{"filter": "datum.s === 'o'"}], "mark": {"type": "line", "color": "#3c3c3c", "strokeWidth": 1}, "encoding": {"x": {"field": "x", "type": "quantitative"}, "y": {"field": "f", "type": "quantitative"}}},
                  {"transform": [{"filter": "datum.s === 'e'"}], "mark": {"type": "line", "color": "#f03c3c", "strokeWidth": 1}, "encoding": {"x": {"field": "x", "type": "quantitative"}, "y": {"field": "f", "type": "quantitative"}}},
                  {"mark": {"type": "point", "filled": true, "size": 12, "opacity": 1}, "encoding": {"x": {"field": "x", "type": "quantitative"}, "y": {"field": "f", "type": "quantitative"}, "color": {"field": "s", "type": "nominal", "scale": {"domain": ["e", "o"], "range": ["#c40000", "#000000"]}, "legend": {"title": null, "legendX": 10, "legendY": 19, "labelOffset": 4.3, "labelExpr": "datum.value === 'e' ? 'Freq. Esperada' : 'Freq. Observada'", "encode": {"symbols": {"update": {"stroke": {"value": "#000"}, "strokeWidth": {"value": 1.5}}}}}}}}
                ]},
                {"data": {"values": [{}]}, "mark": {"type": "text", "align": "left", "baseline": "alphabetic"}, "encoding": {"x": {"datum": 18.319, "type": "quantitative"}, "y": {"datum": 6.64, "type": "quantitative"}, "text": {"value": "X²=4.31"}}},
                {"data": {"values": [{}]}, "mark": {"type": "text", "align": "left", "baseline": "alphabetic"}, "encoding": {"x": {"datum": 18.319, "type": "quantitative"}, "y": {"datum": 4.41, "type": "quantitative"}, "text": {"value": "Lilliefor=0.0207"}}}
              ]
            },
            {
              "width": 394, "height": 268,
              "layer": [
                {"data": {"values": [{}]}, "mark": {"type": "rule", "color": "#3b5bff", "strokeWidth": 1.5}, "encoding": {
                  "x": {"datum": 18, "type": "quantitative", "scale": {"domain": [18, 21.1187], "nice": false, "zero": false}, "axis": {"values": [18, 18.3, 18.6, 18.9, 19.2, 19.5, 19.8, 20.1, 20.4, 20.7, 21], "tickCount": 20, "labelOverlap": false, "labelExpr": "['18','18.2','18.5','18.8','19.1','19.5','19.7','20.1','20.3','20.6','2'][round((datum.value-18)/0.3)]", "title": null}},
                  "x2": {"datum": 21},
                  "y": {"datum": 0, "type": "quantitative", "scale": {"domain": [0, 26.8], "nice": false}, "axis": {"values": [0, 2.5, 5, 7.5, 10, 12.5, 15, 17.5, 20, 22.5, 25], "tickCount": 20, "labels": false, "title": null}}}},
                {"data": {"values": [{}]}, "mark": {"type": "rule", "color": "#3b5bff", "strokeWidth": 1.5}, "encoding": {"x": {"datum": 18, "type": "quantitative"}, "y": {"datum": 0, "type": "quantitative"}, "y2": {"datum": 25}}},
                {"data": {"values": [{}]}, "mark": {"type": "point", "shape": "triangle-right", "filled": true, "size": 22, "color": "#2b4bff", "opacity": 1}, "encoding": {"x": {"datum": 21, "type": "quantitative"}, "y": {"datum": 0, "type": "quantitative"}}},
                {"data": {"values": [{}]}, "mark": {"type": "point", "shape": "triangle-up", "filled": true, "size": 22, "color": "#2b4bff", "opacity": 1}, "encoding": {"x": {"datum": 18, "type": "quantitative"}, "y": {"datum": 25, "type": "quantitative"}}},
                {"data": {"name": "freq"}, "transform": [{"filter": "datum.p === 'C5'"}, {"fold": ["e", "o"], "as": ["s", "f"]}, {"filter": "isValid(datum.f)"}], "layer": [
                  {"transform": [{"filter": "datum.s === 'o'"}], "mark": {"type": "line", "color": "#3c3c3c", "strokeWidth": 1}, "encoding": {"x": {"field": "x", "type": "quantitative"}, "y": {"field": "f", "type": "quantitative"}}},
                  {"transform": [{"filter": "datum.s === 'e'"}], "mark": {"type": "line", "color": "#f03c3c", "strokeWidth": 1}, "encoding": {"x": {"field": "x", "type": "quantitative"}, "y": {"field": "f", "type": "quantitative"}}},
                  {"mark": {"type": "point", "filled": true, "size": 12, "opacity": 1}, "encoding": {"x": {"field": "x", "type": "quantitative"}, "y": {"field": "f", "type": "quantitative"}, "color": {"field": "s", "type": "nominal", "scale": {"domain": ["e", "o"], "range": ["#c40000", "#000000"]}, "legend": {"title": null, "legendX": 11, "legendY": 15.5, "labelOffset": 4, "labelExpr": "datum.value === 'e' ? 'Freq. Esperada' : 'Freq. Observada'", "encode": {"symbols": {"update": {"stroke": {"value": "#000"}, "strokeWidth": {"value": 1.5}}}}}}}}
                ]},
                {"data": {"values": [{}]}, "mark": {"type": "text", "align": "left", "baseline": "alphabetic"}, "encoding": {"x": {"datum": 18.297, "type": "quantitative"}, "y": {"datum": 6.27, "type": "quantitative"}, "text": {"value": "X²=11.61"}}},
                {"data": {"values": [{}]}, "mark": {"type": "text", "align": "left", "baseline": "alphabetic"}, "encoding": {"x": {"datum": 18.297, "type": "quantitative"}, "y": {"datum": 4.03, "type": "quantitative"}, "text": {"value": "Lilliefor=0.0275"}}}
              ]
            },
            {
              "width": 381, "height": 267,
              "layer": [
                {"data": {"values": [{}]}, "mark": {"type": "rule", "color": "#3b5bff", "strokeWidth": 1.5}, "encoding": {
                  "x": {"datum": 18, "type": "quantitative", "scale": {"domain": [18, 21.0809], "nice": false, "zero": false}, "axis": {"values": [18, 18.3, 18.6, 18.9, 19.2, 19.5, 19.8, 20.1, 20.4, 20.7, 21], "tickCount": 20, "labelOverlap": false, "labelExpr": "['18','18.2','18.5','18.8','19.1','19.5','19.7','20.1','20.3','20.6','21'][round((datum.value-18)/0.3)]", "title": null}},
                  "x2": {"datum": 21},
                  "y": {"datum": 0, "type": "quantitative", "scale": {"domain": [0, 27.357], "nice": false}, "axis": {"values": [0, 2.5, 5, 7.5, 10, 12.5, 15, 17.5, 20, 22.5, 25], "tickCount": 20, "labels": false, "title": null}}}},
                {"data": {"values": [{}]}, "mark": {"type": "rule", "color": "#3b5bff", "strokeWidth": 1.5}, "encoding": {"x": {"datum": 18, "type": "quantitative"}, "y": {"datum": 0, "type": "quantitative"}, "y2": {"datum": 25}}},
                {"data": {"values": [{}]}, "mark": {"type": "point", "shape": "triangle-right", "filled": true, "size": 22, "color": "#2b4bff", "opacity": 1}, "encoding": {"x": {"datum": 21, "type": "quantitative"}, "y": {"datum": 0, "type": "quantitative"}}},
                {"data": {"values": [{}]}, "mark": {"type": "point", "shape": "triangle-up", "filled": true, "size": 22, "color": "#2b4bff", "opacity": 1}, "encoding": {"x": {"datum": 18, "type": "quantitative"}, "y": {"datum": 25, "type": "quantitative"}}},
                {"data": {"name": "freq"}, "transform": [{"filter": "datum.p === 'C10'"}, {"fold": ["e", "o"], "as": ["s", "f"]}, {"filter": "isValid(datum.f)"}], "layer": [
                  {"transform": [{"filter": "datum.s === 'o'"}], "mark": {"type": "line", "color": "#3c3c3c", "strokeWidth": 1}, "encoding": {"x": {"field": "x", "type": "quantitative"}, "y": {"field": "f", "type": "quantitative"}}},
                  {"transform": [{"filter": "datum.s === 'e'"}], "mark": {"type": "line", "color": "#f03c3c", "strokeWidth": 1}, "encoding": {"x": {"field": "x", "type": "quantitative"}, "y": {"field": "f", "type": "quantitative"}}},
                  {"mark": {"type": "point", "filled": true, "size": 12, "opacity": 1}, "encoding": {"x": {"field": "x", "type": "quantitative"}, "y": {"field": "f", "type": "quantitative"}, "color": {"field": "s", "type": "nominal", "scale": {"domain": ["e", "o"], "range": ["#c40000", "#000000"]}, "legend": {"title": null, "legendX": 11, "legendY": 19, "labelOffset": 4, "labelExpr": "datum.value === 'e' ? 'Freq. Esperada' : 'Freq. Observada'", "encode": {"symbols": {"update": {"stroke": {"value": "#000"}, "strokeWidth": {"value": 1.5}}}}}}}}
                ]},
                {"data": {"values": [{}]}, "mark": {"type": "text", "align": "left", "baseline": "alphabetic"}, "encoding": {"x": {"datum": 18.323, "type": "quantitative"}, "y": {"datum": 6.32, "type": "quantitative"}, "text": {"value": "X²=9.03"}}},
                {"data": {"values": [{}]}, "mark": {"type": "text", "align": "left", "baseline": "alphabetic"}, "encoding": {"x": {"datum": 18.323, "type": "quantitative"}, "y": {"datum": 4.03, "type": "quantitative"}, "text": {"value": "Lilliefor=0.0265"}}}
              ]
            }
          ]
        },
        {
          "spacing": 0, "bounds": "flush",
          "hconcat": [
            {"width": 37.5, "height": 46, "data": {"values": []}, "mark": "point"},
            {
              "width": 1239, "height": 46,
              "view": {"fill": "#f0f0f0", "stroke": "#000", "strokeWidth": 2},
              "data": {"values": [{}]},
              "layer": [
                {"mark": {"type": "text", "align": "left", "fontWeight": "bold", "fontSize": 19}, "encoding": {"x": {"datum": 20, "type": "quantitative", "scale": {"domain": [0, 1239], "nice": false, "zero": false}, "axis": null}, "text": {"value": "D"}}},
                {"mark": {"type": "text", "align": "right", "fontWeight": "bold", "fontSize": 19}, "encoding": {"x": {"datum": 221, "type": "quantitative"}, "text": {"value": "S"}}},
                {"mark": {"type": "text", "align": "left", "fontWeight": "bold", "fontSize": 12.5, "dy": 5.5}, "encoding": {"x": {"datum": 221, "type": "quantitative"}, "text": {"value": "1"}}},
                {"mark": {"type": "text", "align": "right", "fontWeight": "bold", "fontSize": 19}, "encoding": {"x": {"datum": 599, "type": "quantitative"}, "text": {"value": "S"}}},
                {"mark": {"type": "text", "align": "left", "fontWeight": "bold", "fontSize": 12.5, "dy": 5.5}, "encoding": {"x": {"datum": 599, "type": "quantitative"}, "text": {"value": "5"}}},
                {"mark": {"type": "text", "align": "right", "fontWeight": "bold", "fontSize": 19}, "encoding": {"x": {"datum": 997, "type": "quantitative"}, "text": {"value": "S"}}},
                {"mark": {"type": "text", "align": "left", "fontWeight": "bold", "fontSize": 12.5, "dy": 5.5}, "encoding": {"x": {"datum": 997, "type": "quantitative"}, "text": {"value": "10"}}}
              ]
            }
          ]
        },
        {
          "spacing": 0, "bounds": "flush",
          "resolve": {"scale": {"color": "independent"}, "legend": {"color": "independent"}},
          "hconcat": [
            {"width": 77.5, "height": 315, "data": {"values": []}, "mark": "point"},
            {
              "width": 365, "height": 290,
              "layer": [
                {"data": {"values": [{}]}, "mark": {"type": "rule", "color": "#3b5bff", "strokeWidth": 1.5}, "encoding": {
                  "x": {"datum": 58, "type": "quantitative", "scale": {"domain": [58, 61.1108], "nice": false, "zero": false}, "axis": {"values": [58, 58.3, 58.6, 58.9, 59.2, 59.5, 59.8, 60.1, 60.4, 60.7, 61], "tickCount": 20, "labelOverlap": false, "labelExpr": "['58','58.2','58.5','58.8','59.1','59.5','59.7','60.1','60.3','60.6','6'][round((datum.value-58)/0.3)]", "title": null}},
                  "x2": {"datum": 61},
                  "y": {"datum": 0, "type": "quantitative", "scale": {"domain": [0, 30.983], "nice": false}, "axis": {"values": [0, 2.5, 5, 7.5, 10, 12.5, 15, 17.5, 20, 22.5, 25], "tickCount": 20, "labelOverlap": false, "labelExpr": "['0','2.5','5','7.5','','.5','','.5','','22.5','25'][round(datum.value/2.5)]", "title": "Frequência", "minExtent": 30, "maxExtent": 30, "titlePadding": 18, "titleY": 163}}}},
                {"data": {"values": [{}]}, "mark": {"type": "rule", "color": "#3b5bff", "strokeWidth": 1.5}, "encoding": {"x": {"datum": 58, "type": "quantitative"}, "y": {"datum": 0, "type": "quantitative"}, "y2": {"datum": 25}}},
                {"data": {"values": [{}]}, "mark": {"type": "point", "shape": "triangle-right", "filled": true, "size": 22, "color": "#2b4bff", "opacity": 1}, "encoding": {"x": {"datum": 61, "type": "quantitative"}, "y": {"datum": 0, "type": "quantitative"}}},
                {"data": {"values": [{}]}, "mark": {"type": "point", "shape": "triangle-up", "filled": true, "size": 22, "color": "#2b4bff", "opacity": 1}, "encoding": {"x": {"datum": 58, "type": "quantitative"}, "y": {"datum": 25, "type": "quantitative"}}},
                {"data": {"name": "freq"}, "transform": [{"filter": "datum.p === 'D1'"}, {"fold": ["e", "o"], "as": ["s", "f"]}, {"filter": "isValid(datum.f)"}], "layer": [
                  {"transform": [{"filter": "datum.s === 'o'"}], "mark": {"type": "line", "color": "#3c3c3c", "strokeWidth": 1}, "encoding": {"x": {"field": "x", "type": "quantitative"}, "y": {"field": "f", "type": "quantitative"}}},
                  {"transform": [{"filter": "datum.s === 'e'"}], "mark": {"type": "line", "color": "#f03c3c", "strokeWidth": 1}, "encoding": {"x": {"field": "x", "type": "quantitative"}, "y": {"field": "f", "type": "quantitative"}}},
                  {"mark": {"type": "point", "filled": true, "size": 12, "opacity": 1}, "encoding": {"x": {"field": "x", "type": "quantitative"}, "y": {"field": "f", "type": "quantitative"}, "color": {"field": "s", "type": "nominal", "scale": {"domain": ["e", "o"], "range": ["#c40000", "#000000"]}, "legend": {"title": null, "legendX": 5, "legendY": 48.5, "labelOffset": 4.3, "labelExpr": "datum.value === 'e' ? 'Freq. Esperada' : 'Freq. Observada'", "encode": {"symbols": {"update": {"stroke": {"value": "#000"}, "strokeWidth": {"value": 1.5}}}}}}}}
                ]},
                {"data": {"values": [{}]}, "mark": {"type": "text", "align": "left", "baseline": "alphabetic"}, "encoding": {"x": {"datum": 58.296, "type": "quantitative"}, "y": {"datum": 7.05, "type": "quantitative"}, "text": {"value": "X²=7.25"}}},
                {"data": {"values": [{}]}, "mark": {"type": "text", "align": "left", "baseline": "alphabetic"}, "encoding": {"x": {"datum": 58.296, "type": "quantitative"}, "y": {"datum": 4.67, "type": "quantitative"}, "text": {"value": "Lilliefor=0.019"}}}
              ]
            },
            {
              "width": 396, "height": 286,
              "layer": [
                {"data": {"values": [{}]}, "mark": {"type": "rule", "color": "#3b5bff", "strokeWidth": 1.5}, "encoding": {
                  "x": {"datum": 58, "type": "quantitative", "scale": {"domain": [58, 61.2108], "nice": false, "zero": false}, "axis": {"values": [58, 58.3, 58.6, 58.9, 59.2, 59.5, 59.8, 60.1, 60.4, 60.7, 61], "tickCount": 20, "labelOverlap": false, "labelExpr": "['58','58.2','58.5','58.8','59.1','59.5','59.7','60.1','60.3','60.6','61'][round((datum.value-58)/0.3)]", "title": null}},
                  "x2": {"datum": 61},
                  "y": {"datum": 0, "type": "quantitative", "scale": {"domain": [0, 27.93], "nice": false}, "axis": {"values": [0, 2.5, 5, 7.5, 10, 12.5, 15, 17.5, 20, 22.5, 25], "tickCount": 20, "labels": false, "title": null}}}},
                {"data": {"values": [{}]}, "mark": {"type": "rule", "color": "#3b5bff", "strokeWidth": 1.5}, "encoding": {"x": {"datum": 58, "type": "quantitative"}, "y": {"datum": 0, "type": "quantitative"}, "y2": {"datum": 25}}},
                {"data": {"values": [{}]}, "mark": {"type": "point", "shape": "triangle-right", "filled": true, "size": 22, "color": "#2b4bff", "opacity": 1}, "encoding": {"x": {"datum": 61, "type": "quantitative"}, "y": {"datum": 0, "type": "quantitative"}}},
                {"data": {"values": [{}]}, "mark": {"type": "point", "shape": "triangle-up", "filled": true, "size": 22, "color": "#2b4bff", "opacity": 1}, "encoding": {"x": {"datum": 58, "type": "quantitative"}, "y": {"datum": 25, "type": "quantitative"}}},
                {"data": {"name": "freq"}, "transform": [{"filter": "datum.p === 'D5'"}, {"fold": ["e", "o"], "as": ["s", "f"]}, {"filter": "isValid(datum.f)"}], "layer": [
                  {"transform": [{"filter": "datum.s === 'o'"}], "mark": {"type": "line", "color": "#3c3c3c", "strokeWidth": 1}, "encoding": {"x": {"field": "x", "type": "quantitative"}, "y": {"field": "f", "type": "quantitative"}}},
                  {"transform": [{"filter": "datum.s === 'e'"}], "mark": {"type": "line", "color": "#f03c3c", "strokeWidth": 1}, "encoding": {"x": {"field": "x", "type": "quantitative"}, "y": {"field": "f", "type": "quantitative"}}},
                  {"mark": {"type": "point", "filled": true, "size": 12, "opacity": 1}, "encoding": {"x": {"field": "x", "type": "quantitative"}, "y": {"field": "f", "type": "quantitative"}, "color": {"field": "s", "type": "nominal", "scale": {"domain": ["e", "o"], "range": ["#c40000", "#000000"]}, "legend": {"title": null, "legendX": -3, "legendY": 49, "labelOffset": 4.5, "labelExpr": "datum.value === 'e' ? 'Freq. Esperada' : 'Freq. Observada'", "encode": {"symbols": {"update": {"stroke": {"value": "#000"}, "strokeWidth": {"value": 1.5}}}}}}}}
                ]},
                {"data": {"values": [{}]}, "mark": {"type": "text", "align": "left", "baseline": "alphabetic"}, "encoding": {"x": {"datum": 58.288, "type": "quantitative"}, "y": {"datum": 5.99, "type": "quantitative"}, "text": {"value": "X²=11.24"}}},
                {"data": {"values": [{}]}, "mark": {"type": "text", "align": "left", "baseline": "alphabetic"}, "encoding": {"x": {"datum": 58.288, "type": "quantitative"}, "y": {"datum": 3.81, "type": "quantitative"}, "text": {"value": "Lilliefor=0.0219"}}}
              ]
            },
            {
              "width": 378, "height": 287,
              "layer": [
                {"data": {"values": [{}]}, "mark": {"type": "rule", "color": "#3b5bff", "strokeWidth": 1.5}, "encoding": {
                  "x": {"datum": 58, "type": "quantitative", "scale": {"domain": [58, 61.0815], "nice": false, "zero": false}, "axis": {"values": [58, 58.3, 58.6, 58.9, 59.2, 59.5, 59.8, 60.1, 60.4, 60.7, 61], "tickCount": 20, "labelOverlap": false, "labelExpr": "['58','58.2','58.5','58.8','59.1','59.5','59.7','60.1','60.3','60.6','61'][round((datum.value-58)/0.3)]", "title": null}},
                  "x2": {"datum": 61},
                  "y": {"datum": 0, "type": "quantitative", "scale": {"domain": [0, 28.36], "nice": false}, "axis": {"values": [0, 2.5, 5, 7.5, 10, 12.5, 15, 17.5, 20, 22.5, 25], "tickCount": 20, "labels": false, "title": null}}}},
                {"data": {"values": [{}]}, "mark": {"type": "rule", "color": "#3b5bff", "strokeWidth": 1.5}, "encoding": {"x": {"datum": 58, "type": "quantitative"}, "y": {"datum": 0, "type": "quantitative"}, "y2": {"datum": 25}}},
                {"data": {"values": [{}]}, "mark": {"type": "point", "shape": "triangle-right", "filled": true, "size": 22, "color": "#2b4bff", "opacity": 1}, "encoding": {"x": {"datum": 61, "type": "quantitative"}, "y": {"datum": 0, "type": "quantitative"}}},
                {"data": {"values": [{}]}, "mark": {"type": "point", "shape": "triangle-up", "filled": true, "size": 22, "color": "#2b4bff", "opacity": 1}, "encoding": {"x": {"datum": 58, "type": "quantitative"}, "y": {"datum": 25, "type": "quantitative"}}},
                {"data": {"name": "freq"}, "transform": [{"filter": "datum.p === 'D10'"}, {"fold": ["e", "o"], "as": ["s", "f"]}, {"filter": "isValid(datum.f)"}], "layer": [
                  {"transform": [{"filter": "datum.s === 'o'"}], "mark": {"type": "line", "color": "#3c3c3c", "strokeWidth": 1}, "encoding": {"x": {"field": "x", "type": "quantitative"}, "y": {"field": "f", "type": "quantitative"}}},
                  {"transform": [{"filter": "datum.s === 'e'"}], "mark": {"type": "line", "color": "#f03c3c", "strokeWidth": 1}, "encoding": {"x": {"field": "x", "type": "quantitative"}, "y": {"field": "f", "type": "quantitative"}}},
                  {"mark": {"type": "point", "filled": true, "size": 12, "opacity": 1}, "encoding": {"x": {"field": "x", "type": "quantitative"}, "y": {"field": "f", "type": "quantitative"}, "color": {"field": "s", "type": "nominal", "scale": {"domain": ["e", "o"], "range": ["#c40000", "#000000"]}, "legend": {"title": null, "legendX": 9.5, "legendY": 49, "labelOffset": 5, "labelExpr": "datum.value === 'e' ? 'Freq. Esperada' : 'Freq. Observada'", "encode": {"symbols": {"update": {"stroke": {"value": "#000"}, "strokeWidth": {"value": 1.5}}}}}}}}
                ]},
                {"data": {"values": [{}]}, "mark": {"type": "text", "align": "left", "baseline": "alphabetic"}, "encoding": {"x": {"datum": 58.33, "type": "quantitative"}, "y": {"datum": 6.16, "type": "quantitative"}, "text": {"value": "X²=8.36"}}},
                {"data": {"values": [{}]}, "mark": {"type": "text", "align": "left", "baseline": "alphabetic"}, "encoding": {"x": {"datum": 58.33, "type": "quantitative"}, "y": {"datum": 3.95, "type": "quantitative"}, "text": {"value": "Lilliefor=0.0218"}}}
              ]
            }
          ]
        }
      ]
    },
    {"width": 1, "height": 1448, "view": {"fill": "#000", "stroke": "#000", "strokeWidth": 1}, "data": {"values": []}, "mark": "point"}
  ]
}
